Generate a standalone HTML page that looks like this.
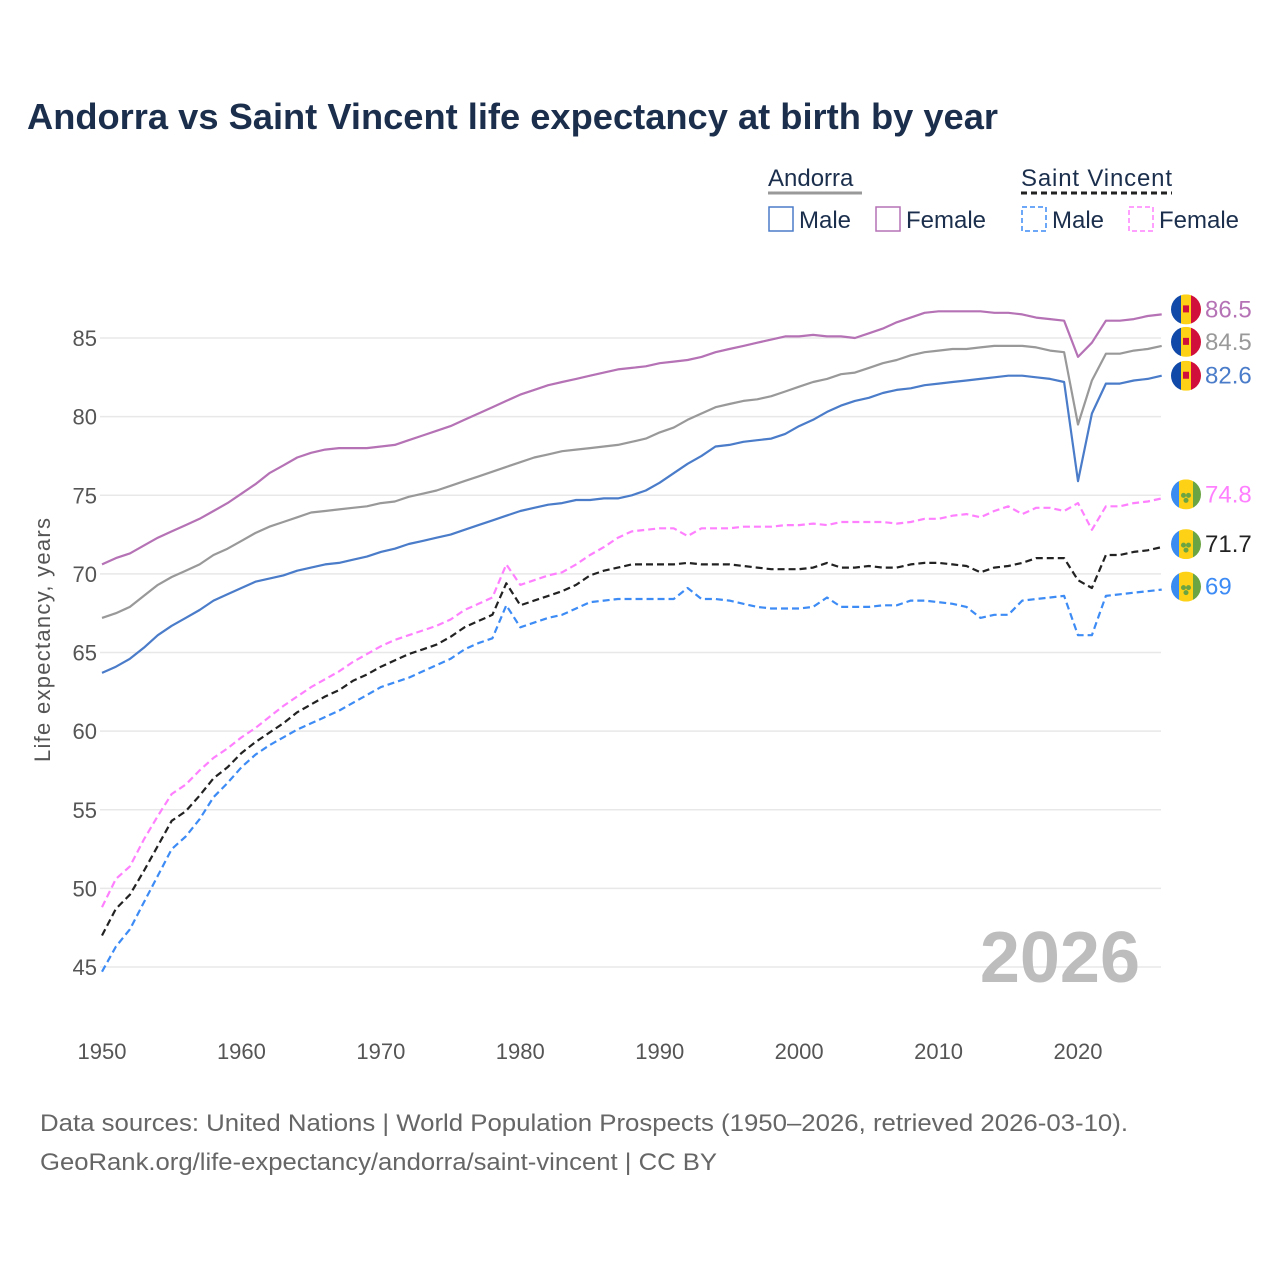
<!DOCTYPE html>
<html><head><meta charset="utf-8">
<style>
body{margin:0;background:#fff;font-family:"Liberation Sans",sans-serif;}
svg text{font-family:"Liberation Sans",sans-serif;}
</style></head>
<body>
<svg id="c" width="1280" height="1280" xmlns="http://www.w3.org/2000/svg">
<text x="27" y="129" font-size="36" font-weight="bold" fill="#1b2f4d" textLength="971" lengthAdjust="spacingAndGlyphs">Andorra vs Saint Vincent life expectancy at birth by year</text>
<g>
<text x="768" y="186" font-size="24" fill="#1b2f4d">Andorra</text>
<line x1="768" y1="193" x2="862" y2="193" stroke="#999" stroke-width="3"/>
<text x="1021" y="186" font-size="24" fill="#1b2f4d" textLength="151">Saint Vincent</text>
<line x1="1021" y1="193" x2="1172" y2="193" stroke="#222" stroke-width="3" stroke-dasharray="6,4"/>
<g><rect x="769" y="207" width="24" height="24" fill="none" stroke="#4a7cc9" stroke-width="1.5"/><text x="799" y="228" font-size="24" fill="#1b2f4d">Male</text></g>
<g><rect x="876" y="207" width="24" height="24" fill="none" stroke="#b572b5" stroke-width="1.5"/><text x="906" y="228" font-size="24" fill="#1b2f4d">Female</text></g>
<g><rect x="1022" y="207" width="24" height="24" fill="none" stroke="#3d8bf5" stroke-width="1.5" stroke-dasharray="5,3"/><text x="1052" y="228" font-size="24" fill="#1b2f4d">Male</text></g>
<g><rect x="1129" y="207" width="24" height="24" fill="none" stroke="#ff80ff" stroke-width="1.5" stroke-dasharray="5,3"/><text x="1159" y="228" font-size="24" fill="#1b2f4d">Female</text></g>
</g>
<g id="grid"></g><g id="axes"></g><g id="series"></g><g id="ends"></g>
<text x="50" y="640" font-size="22" fill="#555" text-anchor="middle" transform="rotate(-90 50 640)" textLength="244">Life expectancy, years</text>
<text x="1140" y="982" font-size="72" font-weight="bold" fill="#bdbdbd" text-anchor="end">2026</text>
<text x="40" y="1131" font-size="24" fill="#666" textLength="1088" lengthAdjust="spacingAndGlyphs">Data sources: United Nations | World Population Prospects (1950–2026, retrieved 2026-03-10).</text>
<text x="40" y="1170" font-size="24" fill="#666" textLength="677" lengthAdjust="spacingAndGlyphs">GeoRank.org/life-expectancy/andorra/saint-vincent | CC BY</text>
</svg>
<script>
const startYear = 1950;
const yTicks = [45,50,55,60,65,70,75,80,85];
const xTicks = [1950,1960,1970,1980,1990,2000,2010,2020];
const andorraFemale = [70.6,71.0,71.3,71.8,72.3,72.7,73.1,73.5,74.0,74.5,75.1,75.7,76.4,76.9,77.4,77.7,77.9,78.0,78.0,78.0,78.1,78.2,78.5,78.8,79.1,79.4,79.8,80.2,80.6,81.0,81.4,81.7,82.0,82.2,82.4,82.6,82.8,83.0,83.1,83.2,83.4,83.5,83.6,83.8,84.1,84.3,84.5,84.7,84.9,85.1,85.1,85.2,85.1,85.1,85.0,85.3,85.6,86.0,86.3,86.6,86.7,86.7,86.7,86.7,86.6,86.6,86.5,86.3,86.2,86.1,83.8,84.7,86.1,86.1,86.2,86.4,86.5];
const andorraTotal = [67.2,67.5,67.9,68.6,69.3,69.8,70.2,70.6,71.2,71.6,72.1,72.6,73.0,73.3,73.6,73.9,74.0,74.1,74.2,74.3,74.5,74.6,74.9,75.1,75.3,75.6,75.9,76.2,76.5,76.8,77.1,77.4,77.6,77.8,77.9,78.0,78.1,78.2,78.4,78.6,79.0,79.3,79.8,80.2,80.6,80.8,81.0,81.1,81.3,81.6,81.9,82.2,82.4,82.7,82.8,83.1,83.4,83.6,83.9,84.1,84.2,84.3,84.3,84.4,84.5,84.5,84.5,84.4,84.2,84.1,79.5,82.3,84.0,84.0,84.2,84.3,84.5];
const andorraMale = [63.7,64.1,64.6,65.3,66.1,66.7,67.2,67.7,68.3,68.7,69.1,69.5,69.7,69.9,70.2,70.4,70.6,70.7,70.9,71.1,71.4,71.6,71.9,72.1,72.3,72.5,72.8,73.1,73.4,73.7,74.0,74.2,74.4,74.5,74.7,74.7,74.8,74.8,75.0,75.3,75.8,76.4,77.0,77.5,78.1,78.2,78.4,78.5,78.6,78.9,79.4,79.8,80.3,80.7,81.0,81.2,81.5,81.7,81.8,82.0,82.1,82.2,82.3,82.4,82.5,82.6,82.6,82.5,82.4,82.2,75.9,80.2,82.1,82.1,82.3,82.4,82.6];
const svFemale = [48.8,50.6,51.4,53.1,54.6,56.0,56.6,57.5,58.3,58.9,59.6,60.2,60.9,61.6,62.2,62.8,63.3,63.8,64.4,64.9,65.4,65.8,66.1,66.4,66.7,67.1,67.7,68.1,68.5,70.6,69.3,69.6,69.9,70.1,70.6,71.2,71.7,72.3,72.7,72.8,72.9,72.9,72.4,72.9,72.9,72.9,73.0,73.0,73.0,73.1,73.1,73.2,73.1,73.3,73.3,73.3,73.3,73.2,73.3,73.5,73.5,73.7,73.8,73.6,74.0,74.3,73.8,74.2,74.2,74.0,74.5,72.8,74.3,74.3,74.5,74.6,74.8];
const svTotal = [47.0,48.7,49.6,51.1,52.7,54.3,54.9,55.9,57.0,57.7,58.6,59.3,59.9,60.5,61.2,61.7,62.2,62.6,63.2,63.6,64.1,64.5,64.9,65.2,65.5,66.0,66.6,67.0,67.4,69.4,68.0,68.3,68.6,68.9,69.3,69.9,70.2,70.4,70.6,70.6,70.6,70.6,70.7,70.6,70.6,70.6,70.5,70.4,70.3,70.3,70.3,70.4,70.7,70.4,70.4,70.5,70.4,70.4,70.6,70.7,70.7,70.6,70.5,70.1,70.4,70.5,70.7,71.0,71.0,71.0,69.6,69.1,71.2,71.2,71.4,71.5,71.7];
const svMale = [44.7,46.3,47.4,49.1,50.8,52.5,53.3,54.4,55.8,56.7,57.7,58.5,59.1,59.6,60.1,60.5,60.9,61.3,61.8,62.3,62.8,63.1,63.4,63.8,64.2,64.6,65.2,65.6,65.9,68.0,66.6,66.9,67.2,67.4,67.8,68.2,68.3,68.4,68.4,68.4,68.4,68.4,69.1,68.4,68.4,68.3,68.1,67.9,67.8,67.8,67.8,67.9,68.5,67.9,67.9,67.9,68.0,68.0,68.3,68.3,68.2,68.1,67.9,67.2,67.4,67.4,68.3,68.4,68.5,68.6,66.1,66.1,68.6,68.7,68.8,68.9,69.0];

const NS='http://www.w3.org/2000/svg';
const xS = yr => 102 + (yr-1950)*(976/70);
const yS = v => 338 + (85-v)*15.725;
function mk(tag, attrs, parent){const e=document.createElementNS(NS,tag);for(const k in attrs)e.setAttribute(k,attrs[k]);parent.appendChild(e);return e;}
const grid=document.getElementById('grid'), axes=document.getElementById('axes'), ser=document.getElementById('series'), ends=document.getElementById('ends');
yTicks.forEach(t=>{
  const l=mk('line',{x1:100,x2:1161,y1:yS(t),y2:yS(t),stroke:'#e8e8e8','stroke-width':1.5},grid);
  
  
  const tx=mk('text',{x:97,y:yS(t)+8,'font-size':22,fill:'#555','text-anchor':'end'},axes);
  tx.textContent=t;
  
  
});
xTicks.forEach(t=>{
  const tx=mk('text',{x:xS(t),y:1059,'font-size':22,fill:'#555','text-anchor':'middle'},axes);
  tx.textContent=t;
  
  
});
const series=[
 {d:svMale,c:'#3d8bf5',dash:'7,4',name:'sv-male-line',flag:'sv',lab:'69',off:-3},
 {d:svTotal,c:'#222',dash:'7,4',name:'sv-total-line',flag:'sv',lab:'71.7',off:-3},
 {d:svFemale,c:'#ff80ff',dash:'7,4',name:'sv-female-line',flag:'sv',lab:'74.8',off:-4},
 {d:andorraMale,c:'#4a7cc9',dash:null,name:'andorra-male-line',flag:'ad',lab:'82.6',off:0},
 {d:andorraTotal,c:'#999',dash:null,name:'andorra-total-line',flag:'ad',lab:'84.5',off:-4},
 {d:andorraFemale,c:'#b572b5',dash:null,name:'andorra-female-line',flag:'ad',lab:'86.5',off:-5}
];
series.forEach(s=>{
  const pts=s.d.map((v,i)=>xS(startYear+i).toFixed(1)+','+yS(v).toFixed(1)).join(' ');
  const a={points:pts,fill:'none',stroke:s.c,'stroke-width':2.2,'stroke-linejoin':'round'};
  if(s.dash)a['stroke-dasharray']=s.dash;
  const p=mk('polyline',a,ser);
  
  
  const last=s.d[s.d.length-1], y=yS(last)+s.off, cx=1186;
  const g=mk('g',{},ends);
  
  
  const cp=mk('clipPath',{id:'cl'+s.name},g);
  mk('circle',{cx:cx,cy:y,r:15},cp);
  const gg=mk('g',{'clip-path':'url(#cl'+s.name+')'},g);
  if(s.flag==='ad'){
    mk('rect',{x:cx-15,y:y-15,width:10,height:30,fill:'#1049a8'},gg);
    mk('rect',{x:cx-5,y:y-15,width:10,height:30,fill:'#fcd116'},gg);
    mk('rect',{x:cx+5,y:y-15,width:10,height:30,fill:'#d0103a'},gg);
    mk('rect',{x:cx-3,y:y-4,width:6,height:7,fill:'#d0103a'},gg);
  } else {
    mk('rect',{x:cx-15,y:y-15,width:8,height:30,fill:'#3b8cf0'},gg);
    mk('rect',{x:cx-7,y:y-15,width:14,height:30,fill:'#fcd116'},gg);
    mk('rect',{x:cx+7,y:y-15,width:8,height:30,fill:'#6aa443'},gg);
    mk('circle',{cx:cx-2.5,cy:y+1,r:2.5,fill:'#6aa443'},gg);
    mk('circle',{cx:cx+2.5,cy:y+1,r:2.5,fill:'#6aa443'},gg);
    mk('circle',{cx:cx,cy:y+6,r:2.5,fill:'#6aa443'},gg);
  }
  const t=mk('text',{x:1205,y:y+8,'font-size':24,fill:s.c},g);
  t.textContent=s.lab;
});
</script>
</body></html>
